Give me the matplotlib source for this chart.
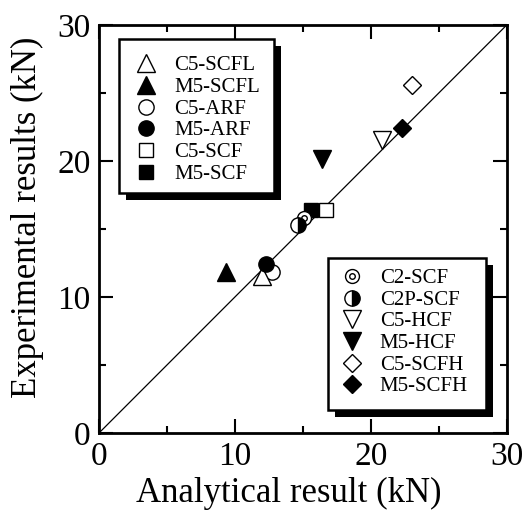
import numpy as np
import matplotlib
matplotlib.use('Agg')
import matplotlib.pyplot as plt
from matplotlib.patches import Rectangle
from matplotlib.lines import Line2D
from matplotlib.legend_handler import HandlerTuple

plt.rcParams['font.family'] = ['Liberation Serif', 'DejaVu Serif']

# analytical (x) vs experimental (y), kN
c5_scfl = ([12.0], [11.5])
m5_scfl = ([9.3], [11.8])
c5_arf = ([12.7], [11.8])
m5_arf = ([12.3], [12.4])
c5_scf = ([16.7], [16.4])
m5_scf = ([15.6], [16.4])
c2_scf = ([15.1], [15.8])
c2p_scf = ([14.6], [15.3])
c5_hcf = ([20.8], [21.5])
m5_hcf = ([16.4], [20.1])
c5_scfh = ([23.0], [25.6])
m5_scfh = ([22.3], [22.4])

labels1 = ['C5-SCFL', 'M5-SCFL', 'C5-ARF', 'M5-ARF', 'C5-SCF', 'M5-SCF']
labels2 = ['C2-SCF', 'C2P-SCF', 'C5-HCF', 'M5-HCF', 'C5-SCFH', 'M5-SCFH']
ticks = [0, 10, 20, 30]

fig = plt.figure(figsize=(5.27, 5.16), dpi=100)
ax = fig.add_axes([0.188, 0.161, 0.774, 0.791])

ax.plot([0, 30], [0, 30], color='k', lw=0.9, zorder=1)

ew = 1.0
def style(marker, ms, filled):
    return dict(marker=marker, ms=ms, ls='none', mec='k', mew=ew,
                mfc='k' if filled else 'white')

st = {
    'C5-SCFL': style('^', 12.5, False),
    'M5-SCFL': style('^', 12.5, True),
    'C5-ARF': style('o', 11, False),
    'M5-ARF': style('o', 11, True),
    'C5-SCF': style('s', 10, False),
    'M5-SCF': style('s', 10, True),
    'C5-HCF': style('v', 12.5, False),
    'M5-HCF': style('v', 12.5, True),
    'C5-SCFH': style('D', 9.5, False),
    'M5-SCFH': style('D', 9.5, True),
}
half = dict(marker='o', ms=11, ls='none', mec='k', mew=ew, mfc='k',
            markerfacecoloralt='white', fillstyle='right')
outer = dict(marker='o', ms=10, ls='none', mec='k', mew=ew, mfc='white')
inner = dict(marker='o', ms=4, ls='none', mec='k', mew=ew, mfc='white')

ax.plot(*c5_arf, **st['C5-ARF'])
ax.plot(*c5_scfl, **st['C5-SCFL'])
ax.plot(*m5_arf, **st['M5-ARF'])
ax.plot(*m5_scfl, **st['M5-SCFL'])
ax.plot(*m5_scf, **st['M5-SCF'])
ax.plot(*c5_scf, **st['C5-SCF'])
ax.plot(*c2_scf, **outer)
ax.plot(*c2_scf, **inner)
ax.plot(*c2p_scf, **half)
ax.plot(*c5_hcf, **st['C5-HCF'])
ax.plot(*m5_hcf, **st['M5-HCF'])
ax.plot(*c5_scfh, **st['C5-SCFH'])
ax.plot(*m5_scfh, **st['M5-SCFH'])

ax.set_xlim(0, 30)
ax.set_ylim(0, 30)
ax.set_xticks(ticks)
ax.set_yticks(ticks)
ax.set_xticks([5, 15, 25], minor=True)
ax.set_yticks([5, 15, 25], minor=True)
ax.tick_params(which='both', direction='in', top=True, right=True, width=1.5,
               labelsize=24, pad=6)
ax.tick_params(which='major', length=10)
ax.tick_params(which='minor', length=5)
for s in ax.spines.values():
    s.set_linewidth(2.0)
ax.set_xlabel('Analytical result (kN)', fontsize=25)
ax.set_ylabel('Experimental results (kN)', fontsize=25)
ax.xaxis.set_label_coords(0.466, -0.108)
ax.yaxis.set_label_coords(-0.135, 0.529)

# legend boxes with offset black shadow
off = 0.0175
for (x0, y0, x1, y1) in [(0.049, 0.588, 0.429, 0.966), (0.561, 0.056, 0.949, 0.429)]:
    ax.add_patch(Rectangle((x0 + off, y0 - off), x1 - x0, y1 - y0, transform=ax.transAxes,
                           facecolor='k', edgecolor='k', lw=0, zorder=4, clip_on=False))
    ax.add_patch(Rectangle((x0, y0), x1 - x0, y1 - y0, transform=ax.transAxes,
                           facecolor='white', edgecolor='k', lw=1.8, zorder=4.5, clip_on=False))

h1 = [Line2D([], [], **st[k]) for k in labels1]
h2 = [(Line2D([], [], **outer), Line2D([], [], **inner)),
      Line2D([], [], **half)] + [Line2D([], [], **st[k]) for k in labels2[2:]]

leg_kw = dict(frameon=False, fontsize=15, handlelength=0.9, handletextpad=0.9,
              labelspacing=0.1, borderpad=0, borderaxespad=0, loc='center left',
              handler_map={tuple: HandlerTuple(ndivide=1)})
leg1 = ax.legend(h1, labels1, bbox_to_anchor=(0.093, 0.767), **leg_kw)
leg1.set_zorder(5)
ax.add_artist(leg1)
leg2 = ax.legend(h2, labels2, bbox_to_anchor=(0.596, 0.246), **leg_kw)
leg2.set_zorder(5)

fig.savefig('out.png', dpi=100)
